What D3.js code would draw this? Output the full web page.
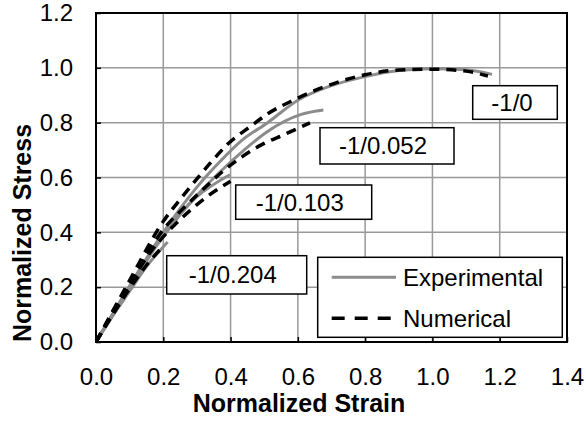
<!DOCTYPE html>
<html><head><meta charset="utf-8">
<script src="https://cdn.jsdelivr.net/npm/d3@7"></script>
<style>
html,body{margin:0;padding:0;background:#fff;}
svg text{font-family:"Liberation Sans",Arial,sans-serif;fill:#000;}
</style></head>
<body>
<svg id="chart" width="586" height="421"></svg>
<script>
// ---- data ----
const xTicks = [0, 0.2, 0.4, 0.6, 0.8, 1.0, 1.2, 1.4];
const yTicks = [0, 0.2, 0.4, 0.6, 0.8, 1.0, 1.2];

const exp0X = [0, 0.1, 0.2, 0.3, 0.37, 0.43, 0.51, 0.6, 0.7, 0.8, 0.9, 1.0, 1.1, 1.177];
const exp0Y = [0, 0.205, 0.40, 0.565, 0.66, 0.732, 0.80, 0.882, 0.935, 0.968, 0.99, 0.997, 0.993, 0.976];
const num0X = [0, 0.1, 0.2, 0.25, 0.3, 0.34, 0.39, 0.46, 0.51, 0.59, 0.7, 0.8, 0.9, 1.0, 1.1, 1.165];
const num0Y = [0, 0.225, 0.44, 0.52, 0.595, 0.653, 0.72, 0.787, 0.832, 0.884, 0.94, 0.975, 0.992, 0.995, 0.988, 0.97];

const exp052X = [0, 0.1, 0.2, 0.3, 0.37, 0.44, 0.51, 0.61, 0.676];
const exp052Y = [0, 0.2, 0.385, 0.535, 0.622, 0.70, 0.768, 0.83, 0.846];
const num052X = [0, 0.1, 0.2, 0.27, 0.33, 0.38, 0.43, 0.49, 0.56, 0.636];
const num052Y = [0, 0.215, 0.41, 0.50, 0.57, 0.626, 0.672, 0.718, 0.757, 0.799];

const exp103X = [0, 0.1, 0.21, 0.3, 0.398];
const exp103Y = [0, 0.2, 0.41, 0.53, 0.61];
const num103X = [0, 0.1, 0.16, 0.22, 0.28, 0.33, 0.40];
const num103Y = [0, 0.21, 0.325, 0.41, 0.48, 0.53, 0.586];

const exp204X = [0, 0.05, 0.1, 0.15, 0.213];
const exp204Y = [0, 0.095, 0.185, 0.275, 0.365];
const num204X = [0, 0.05, 0.1, 0.15, 0.2];
const num204Y = [0, 0.1, 0.195, 0.28, 0.35];

const caseLabels = ["-1/0", "-1/0.052", "-1/0.103", "-1/0.204"];
const seriesNames = ["Experimental", "Numerical"];

// ---- layout ----
const L = 96, R = 567, T = 13, B = 342;
const svg = d3.select("#chart");
const x = d3.scaleLinear().domain([0, 1.4]).range([L, R]);
const y = d3.scaleLinear().domain([0, 1.2]).range([B, T]);

const expColor = "#8c8c8c", numColor = "#000";
const gridColor = "#999";
const FS = "24px";

// grid
svg.append("g").selectAll("line").data(xTicks.slice(1, -1)).join("line")
  .attr("x1", d => x(d)).attr("x2", d => x(d)).attr("y1", T).attr("y2", B)
  .attr("stroke", gridColor).attr("stroke-width", 1.5);
svg.append("g").selectAll("line").data(yTicks.slice(1, -1)).join("line")
  .attr("y1", d => y(d)).attr("y2", d => y(d)).attr("x1", L).attr("x2", R)
  .attr("stroke", gridColor).attr("stroke-width", 1.5);

// axes (inward ticks)
const xAxis = d3.axisBottom(x).tickValues(xTicks).tickSize(-5).tickPadding(26).tickFormat(d3.format(".1f"));
const yAxis = d3.axisLeft(y).tickValues(yTicks).tickSize(-5).tickPadding(23).tickFormat(d3.format(".1f"));
const gx = svg.append("g").attr("transform", `translate(0,${B})`).call(xAxis);
const gy = svg.append("g").attr("transform", `translate(${L},0)`).call(yAxis);
[gx, gy].forEach(g => {
  g.select(".domain").remove();
  g.selectAll(".tick line").attr("stroke", "#000").attr("stroke-width", 1.5);
  g.selectAll(".tick text").style("font-size", FS).attr("fill", "#000");
});
gx.selectAll(".tick text").attr("dy", "0.71em");

// curves
const line = d3.line().x(d => x(d[0])).y(d => y(d[1])).curve(d3.curveMonotoneX);
const zip = (a, b) => a.map((v, i) => [v, b[i]]);
const expSeries = [zip(exp0X, exp0Y), zip(exp052X, exp052Y), zip(exp103X, exp103Y), zip(exp204X, exp204Y)];
const numSeries = [zip(num0X, num0Y), zip(num052X, num052Y), zip(num103X, num103Y), zip(num204X, num204Y)];

svg.append("clipPath").attr("id", "pc").append("rect")
  .attr("x", L).attr("y", T).attr("width", R - L).attr("height", B - T);
const gc = svg.append("g").attr("clip-path", "url(#pc)");
gc.selectAll("path.exp").data(expSeries).join("path").attr("class", "exp")
  .attr("d", line).attr("fill", "none").attr("stroke", expColor).attr("stroke-width", 3);
gc.selectAll("path.num").data(numSeries).join("path").attr("class", "num")
  .attr("d", line).attr("fill", "none").attr("stroke", numColor).attr("stroke-width", 3.5)
  .attr("stroke-dasharray", "10,7");

// plot border
svg.append("rect").attr("x", L).attr("y", T).attr("width", R - L).attr("height", B - T)
  .attr("fill", "none").attr("stroke", "#000").attr("stroke-width", 2);

// case label boxes (pixel boxes)
const boxes = [
  {x0: 472.7, y0: 85.7, x1: 557.3, y1: 119.3, dx: -3},
  {x0: 320, y0: 127.7, x1: 454, y1: 164, dx: -4},
  {x0: 235.7, y0: 185, x1: 371.7, y1: 219.3, dx: -4},
  {x0: 166.7, y0: 255.7, x1: 306.7, y1: 294, dx: -4}
];
boxes.forEach((b, i) => {
  svg.append("rect").attr("x", b.x0).attr("y", b.y0).attr("width", b.x1 - b.x0).attr("height", b.y1 - b.y0)
    .attr("fill", "#fff").attr("stroke", "#000").attr("stroke-width", 1.5);
  svg.append("text").attr("x", (b.x0 + b.x1) / 2 + b.dx).attr("y", (b.y0 + b.y1) / 2 + 8.5)
    .attr("text-anchor", "middle").style("font-size", FS).text(caseLabels[i]);
});

// legend
const lg = svg.append("g");
lg.append("rect").attr("x", 317.7).attr("y", 257.3).attr("width", 244.6).attr("height", 80)
  .attr("fill", "#fff").attr("stroke", "#000").attr("stroke-width", 1.5);
const legItems = [
  {name: seriesNames[0], color: expColor, w: 3, dash: null, yy: 277.3},
  {name: seriesNames[1], color: numColor, w: 3.5, dash: "13,10", yy: 318.3}
];
legItems.forEach(it => {
  lg.append("line").attr("x1", 331.7).attr("x2", 396).attr("y1", it.yy).attr("y2", it.yy)
    .attr("stroke", it.color).attr("stroke-width", it.w).attr("stroke-dasharray", it.dash);
  lg.append("text").attr("x", 403).attr("y", it.yy + 8.5).style("font-size", FS).text(it.name);
});

// axis titles
svg.append("text").attr("x", 299).attr("y", 412).attr("text-anchor", "middle")
  .style("font-size", "25px").style("font-weight", "bold").text("Normalized Strain");
svg.append("text").attr("transform", "translate(31,233) rotate(-90)").attr("text-anchor", "middle")
  .style("font-size", "25px").style("font-weight", "bold").text("Normalized Stress");
</script>
</body></html>
